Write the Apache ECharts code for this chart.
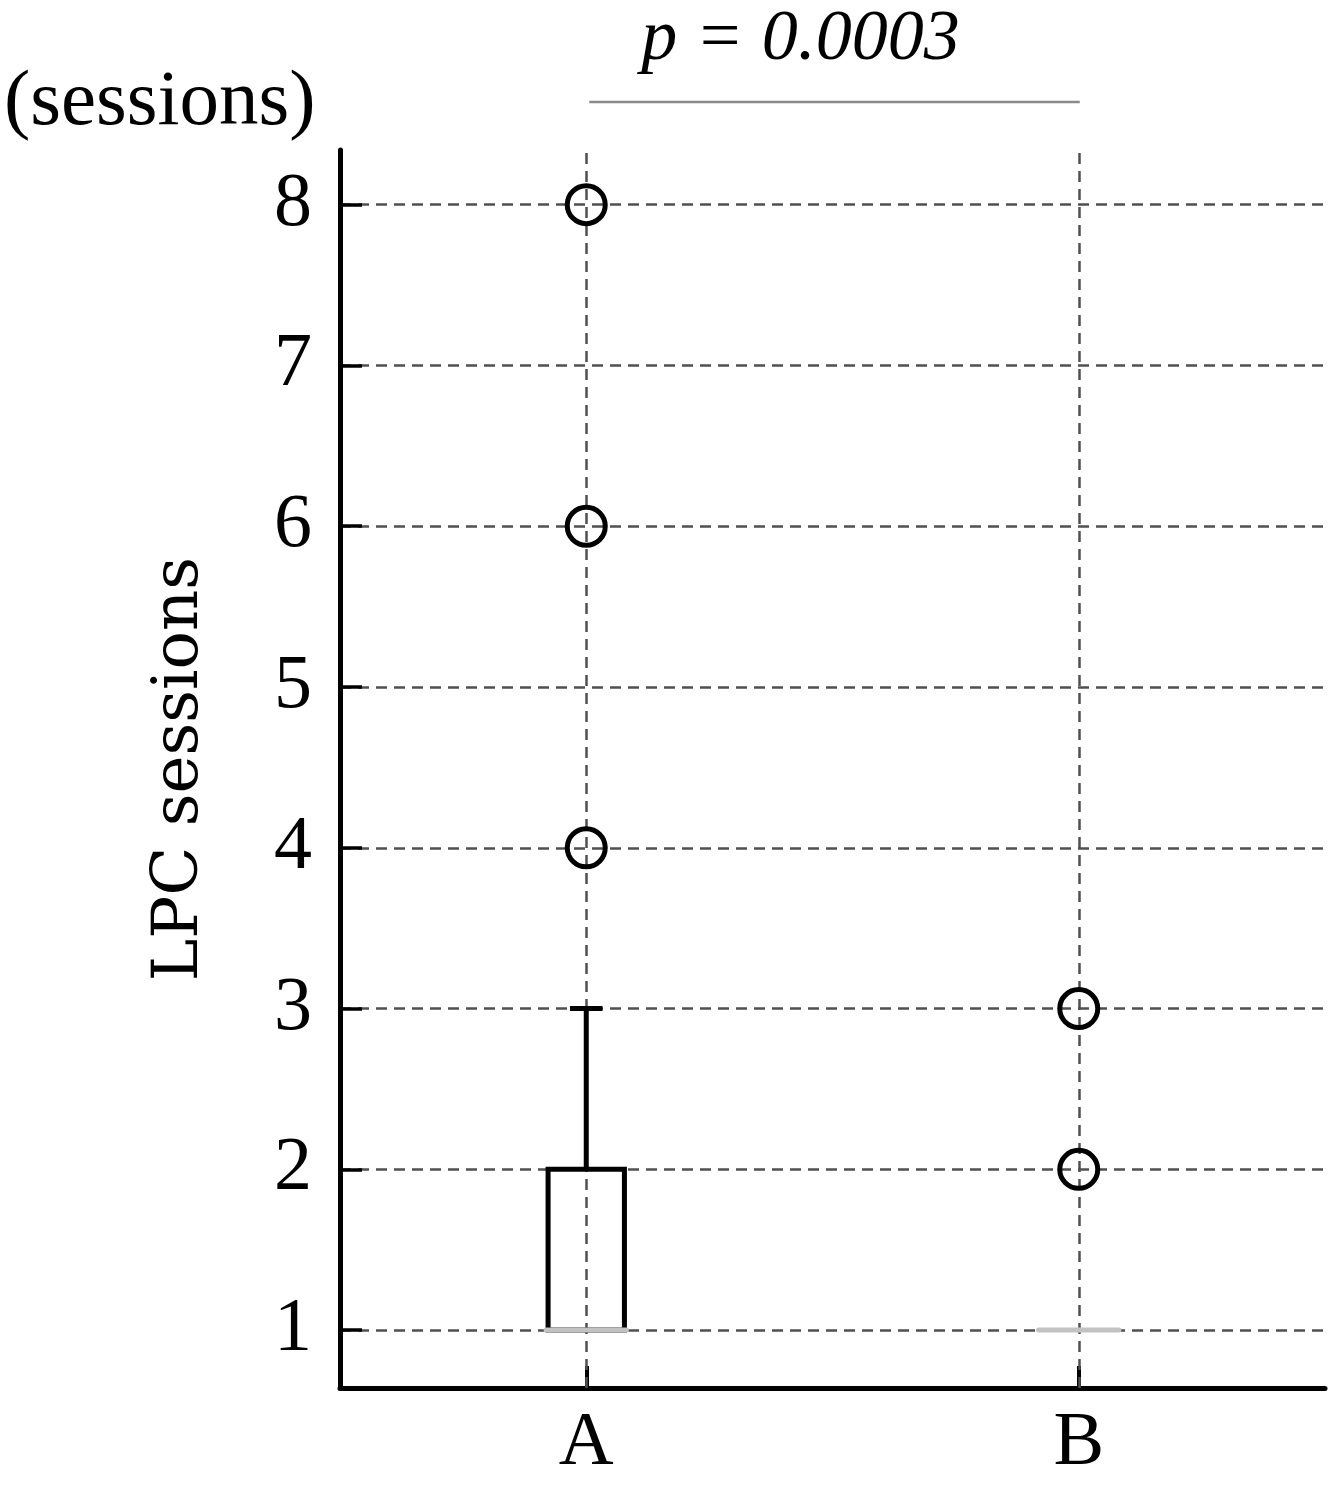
<!DOCTYPE html>
<html>
<head>
<meta charset="utf-8">
<title>LPC sessions</title>
<script src="https://cdn.jsdelivr.net/npm/echarts@6/dist/echarts.min.js"></script>
<style>
  html, body { margin: 0; padding: 0; background: #fff; }
  #chart { width: 1338px; height: 1488px; }
</style>
</head>
<body>
<div id="chart"></div>
<script>
// ---- data ----
const categories = ['A', 'B'];
const mins = [1, 1];
const q1s = [1, 1];
const medians = [1, 1];
const q3s = [2, 1];
const maxs = [3, 1];
const outliersA = [4, 6, 8];
const outliersB = [2, 3];
const yTicks = [1, 2, 3, 4, 5, 6, 7, 8];
const pText = 'p = 0.0003';

const serif = '"Liberation Serif", "DejaVu Serif", serif';
const gridDash = { color: '#505050', width: 2.5, type: [11, 7] };

const boxData = categories.map((c, i) => [i, mins[i], q1s[i], medians[i], q3s[i], maxs[i]]);
const outlierData = [
  ...outliersA.map(v => ['A', v]),
  ...outliersB.map(v => ['B', v])
];

// box + whisker drawn from the axis scales
function renderBox(params, api) {
  const i = api.value(0);
  const lo = api.coord([i, api.value(1)]);
  const q1 = api.coord([i, api.value(2)]);
  const med = api.coord([i, api.value(3)]);
  const q3 = api.coord([i, api.value(4)]);
  const hi = api.coord([i, api.value(5)]);
  const band = api.size([1, 0])[0];
  const bw = band * 0.155;
  const cap = band * 0.066;
  const mw = band * 0.163;
  const cx = q1[0];
  const black = { stroke: '#000', lineWidth: 5, fill: null };
  const kids = [];
  if (q1[1] - q3[1] > 0.5) {
    kids.push({ type: 'rect', shape: { x: cx - bw / 2, y: q3[1], width: bw, height: q1[1] - q3[1] }, style: black });
  }
  if (q3[1] - hi[1] > 0.5) {
    kids.push({ type: 'line', shape: { x1: cx, y1: q3[1], x2: cx, y2: hi[1] }, style: black });
    kids.push({ type: 'line', shape: { x1: cx - cap / 2, y1: hi[1], x2: cx + cap / 2, y2: hi[1] }, style: black });
  }
  if (lo[1] - q1[1] > 0.5) {
    kids.push({ type: 'line', shape: { x1: cx, y1: q1[1], x2: cx, y2: lo[1] }, style: black });
    kids.push({ type: 'line', shape: { x1: cx - cap / 2, y1: lo[1], x2: cx + cap / 2, y2: lo[1] }, style: black });
  }
  kids.push({ type: 'line', shape: { x1: cx - mw / 2, y1: med[1], x2: cx + mw / 2, y2: med[1] },
    style: { stroke: '#c2c2c2', lineWidth: 5, lineCap: 'round' } });
  return { type: 'group', children: kids };
}

const chart = echarts.init(document.getElementById('chart'));

chart.setOption({
  animation: false,
  backgroundColor: '#fff',
  grid: { left: 340, right: 13, top: 150, bottom: 100 },
  xAxis: {
    type: 'category',
    data: categories,
    boundaryGap: true,
    axisLine: { lineStyle: { color: '#000', width: 5 } },
    axisTick: { show: true, inside: true, alignWithLabel: true, length: 22, lineStyle: { color: '#000', width: 4 } },
    axisLabel: { color: '#000', fontFamily: serif, fontSize: 76, margin: 18 },
    splitLine: { show: false }
  },
  yAxis: {
    type: 'value',
    min: 0.64,
    max: 8.34,
    name: 'LPC sessions',
    nameLocation: 'middle',
    nameRotate: 90,
    nameGap: 128,
    nameTextStyle: { color: '#000', fontFamily: '"DejaVu Serif", serif', fontSize: 64 },
    axisLine: { show: true, lineStyle: { color: '#000', width: 5 } },
    axisTick: { show: true, inside: true, length: 22, customValues: yTicks, lineStyle: { color: '#000', width: 3.5 } },
    axisLabel: { color: '#000', fontFamily: serif, fontSize: 76, margin: 28, customValues: yTicks },
    splitLine: { show: true, lineStyle: gridDash }
  },
  series: [
    {
      type: 'custom',
      name: 'box',
      z: 3,
      renderItem: renderBox,
      data: boxData,
      markLine: {
        silent: true,
        z: 1,
        symbol: 'none',
        label: { show: false },
        lineStyle: gridDash,
        data: categories.map(c => ({ xAxis: c }))
      }
    },
    {
      type: 'scatter',
      name: 'outliers',
      z: 4,
      symbol: 'circle',
      symbolSize: 38,
      itemStyle: { color: 'rgba(0,0,0,0)', borderColor: '#000', borderWidth: 5, opacity: 1 },
      data: outlierData
    }
  ]
});

// significance bar between the two groups, placed with the axis scales
const pa = chart.convertToPixel({ gridIndex: 0 }, ['A', 8]);
const pb = chart.convertToPixel({ gridIndex: 0 }, ['B', 8]);
chart.setOption({
  graphic: [
    {
      type: 'text',
      left: 4,
      top: 64,
      style: { text: '(sessions)', fill: '#000', font: '79px ' + serif }
    },
    {
      type: 'line',
      shape: { x1: pa[0] + 3, y1: 102, x2: pb[0] + 1, y2: 102 },
      style: { stroke: '#8a8a8a', lineWidth: 2.5 }
    },
    {
      type: 'text',
      x: (pa[0] + pb[0]) / 2 - 32,
      y: 4,
      style: { text: pText, fill: '#000', font: 'italic 72px ' + serif, align: 'center' }
    }
  ]
});
</script>
</body>
</html>
